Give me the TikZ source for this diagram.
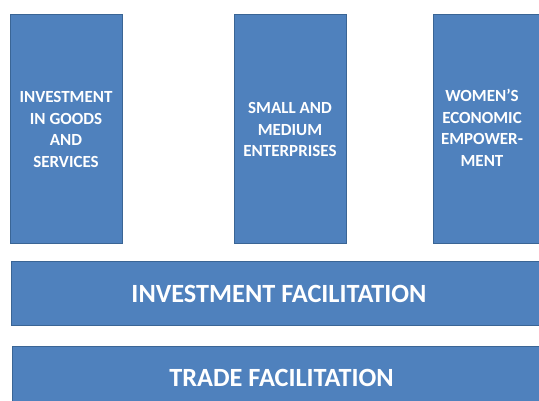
\documentclass[tikz,border=0pt]{standalone}
\usepackage{fontspec}
\setmainfont{Carlito}
\usepackage{tikz}

\definecolor{boxblue}{HTML}{4F81BD}
\definecolor{boxedge}{HTML}{3A6595}

\begin{document}
\begin{tikzpicture}[x=1pt, y=-1pt,
  pillar/.style={rectangle, draw=boxedge, fill=boxblue, line width=1pt, text=white,
    font=\bfseries\fontsize{17}{21.5}\selectfont, align=center,
    minimum width=112pt, minimum height=229pt, inner sep=0pt},
  layer/.style={rectangle, draw=boxedge, fill=boxblue, line width=1pt, text=white,
    font=\bfseries\fontsize{26.3}{30}\selectfont, minimum height=64pt, inner sep=0pt}]
 \useasboundingbox (0,0) rectangle (539,401);
 \node[pillar] (goods) at (66,129.5) {INVESTMENT\\IN GOODS\\AND\\SERVICES};
 \node[pillar] (sme) at (290,129.5) {SMALL AND\\MEDIUM\\ENTERPRISES};
 \node[pillar, minimum width=110pt] (women) at (488,129.5)
  {\begin{tabular}{@{}c@{}}WOMEN’S\\ECONOMIC\\EMPOWER-\\MENT\end{tabular}\hspace{12pt}};
 \node[layer, minimum width=536pt] (invest) at (279,294) {INVESTMENT FACILITATION};
 \node[layer, minimum width=539pt] (trade) at (281.5,378) {TRADE FACILITATION};
\end{tikzpicture}
\end{document}
